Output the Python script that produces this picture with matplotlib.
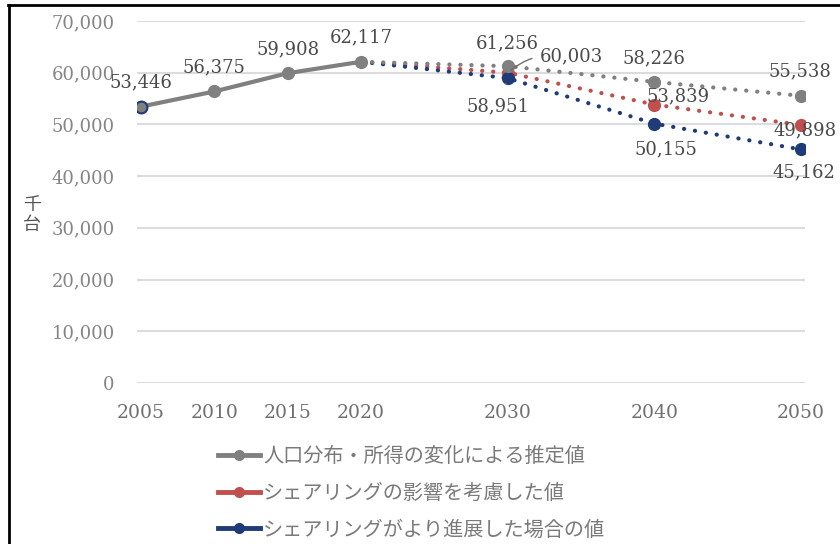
import matplotlib
matplotlib.use("Agg")
import matplotlib.pyplot as plt
from matplotlib.lines import Line2D

years_hist = [2005, 2010, 2015, 2020]
base_hist = [53446, 56375, 59908, 62117]
years_proj = [2020, 2030, 2040, 2050]
base_proj = [62117, 61256, 58226, 55538]
share_proj = [62117, 60003, 53839, 49898]
adv_proj = [62117, 58951, 50155, 45162]

xticks = [2005, 2010, 2015, 2020, 2030, 2040, 2050]
yticks = [0, 10000, 20000, 30000, 40000, 50000, 60000, 70000]
legend_labels = ["人口分布・所得の変化による推定値",
                 "シェアリングの影響を考慮した値",
                 "シェアリングがより進展した場合の値"]
ylabel = "千\n台"

GRAY = "#808080"
RED = "#c0504d"
BLUE = "#1f3b78"
SERIF = ["DejaVu Serif"]
JP = ["Noto Sans CJK JP", "DejaVu Sans"]

fig = plt.figure(figsize=(8.4, 5.44), dpi=100)
ax = fig.add_axes([137/840, 1-383/544, 668/840, 362/544])

ax.set_xlim(2005 - 4/14.667, 2050 + 4/14.667)
ax.set_ylim(0, 70000)
ax.set_yticks(yticks)
ax.set_yticklabels([f"{v:,}" for v in yticks], family=SERIF, fontsize=13, color="#858585")
ax.set_xticks(xticks)
ax.set_xticklabels([str(v) for v in xticks], family=SERIF, fontsize=13.5, color="#707070")
ax.tick_params(length=0)
ax.tick_params(axis="y", pad=16)
ax.tick_params(axis="x", pad=15)
for s in ax.spines.values():
    s.set_visible(False)
ax.grid(axis="y", color="#dcdcdc", linewidth=1.5)
ax.set_axisbelow(True)

lw = 3
ms = 8.5
dot = (0, (0.05, 2.6))
for vals, col in ((share_proj, RED), (adv_proj, BLUE), (base_proj, GRAY)):
    ax.plot(years_proj, vals, color=col, linestyle=dot, linewidth=lw,
            dash_capstyle="round", marker="o", markersize=ms, markevery=[1, 2, 3], zorder=3)
ax.plot(years_hist, base_hist, color=GRAY, linewidth=lw, marker="o", markersize=ms, zorder=4)
ax.plot(years_hist[:1], base_hist[:1], linestyle="none", marker="o", markersize=ms,
        markerfacecolor=GRAY, markeredgecolor=BLUE, markeredgewidth=1.5, zorder=5)

lab_kw = dict(family=SERIF, fontsize=13, color="#4a4a4a", ha="center", va="center",
              textcoords="offset pixels", zorder=6)

def lab(x, y, dx, dy):
    ax.annotate(f"{y:,}", (x, y), xytext=(dx, dy), **lab_kw)

for x, y in zip(years_hist, base_hist):
    lab(x, y, 0, 24)
lab(2030, base_proj[1], 0, 23)
lab(2040, base_proj[2], 0, 24)
lab(2050, base_proj[3], -1, 24)
lab(2040, share_proj[2], 24, 8)
lab(2050, share_proj[3], 4, -5)
lab(2040, adv_proj[2], 12, -26)
lab(2050, adv_proj[3], 3, -23)
ax.annotate(f"{share_proj[1]:,}", (2030, share_proj[1]), xytext=(64, 16),
            arrowprops=dict(arrowstyle="-", color="#707070", lw=1,
                            shrinkA=4, shrinkB=3,
                            connectionstyle="arc3,rad=0.25"), **lab_kw)
ax.annotate(f"{adv_proj[1]:,}", (2030, adv_proj[1]), xytext=(-10, -28),
            arrowprops=dict(arrowstyle="-", color="#707070", lw=1,
                            shrinkA=8, shrinkB=4), **lab_kw)

fig.text(32/840, 1-215/544, ylabel, family=JP, fontsize=13, color="#555555",
         ha="center", va="center", linespacing=1.1)

handles = [Line2D([], [], color=c, linewidth=3.5, marker="o", markersize=7)
           for c in (GRAY, RED, BLUE)]
leg = fig.legend(handles, legend_labels, loc="upper left",
                 bbox_to_anchor=(218/840, 1-446/544), frameon=False,
                 prop={"family": JP, "size": 14.5}, handlelength=2.1,
                 handletextpad=0.15, labelspacing=0.78, borderpad=0, borderaxespad=0)
for t in leg.get_texts():
    t.set_color("#7a7a7a")

fig.add_artist(Line2D([8/840, 1], [1-5/544, 1-5/544], transform=fig.transFigure,
                      color="black", linewidth=2))
fig.add_artist(Line2D([9/840, 9/840], [0, 1-5/544], transform=fig.transFigure,
                      color="black", linewidth=2))

fig.savefig("out.png", dpi=100)
